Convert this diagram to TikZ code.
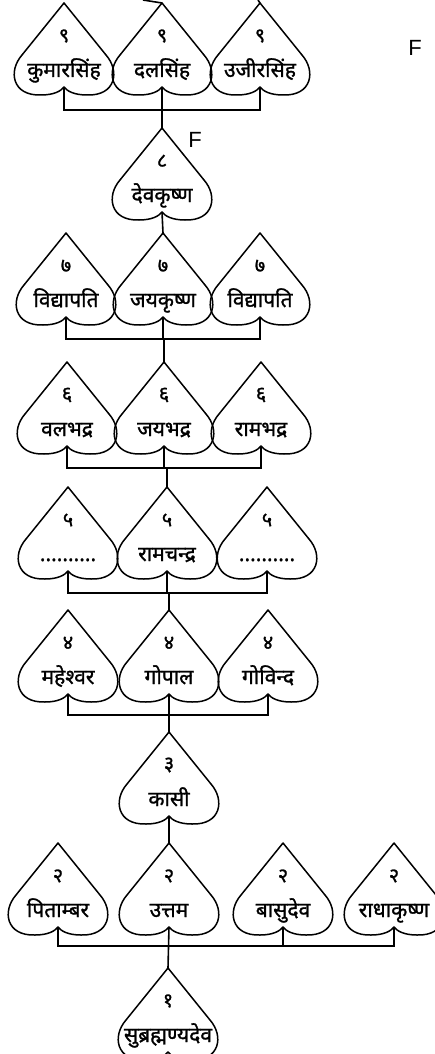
\documentclass[tikz,border=0pt]{standalone}
\usepackage{fontspec}
\newfontfamily\deva[Script=Devanagari,FakeBold=1.2]{Noto Sans}
\newfontfamily\lsans{Liberation Sans}
\tikzset{
  x=1pt,y=1pt,
  heartline/.style={draw=black,line width=1.5pt,line join=round},
  conn/.style={draw=black,line width=1.6pt},
  numtxt/.style={inner sep=0pt,font=\deva\fontsize{20}{20}\selectfont},
  nametxt/.style={inner sep=0pt,anchor=base,font=\deva\fontsize{21}{21}\selectfont},
  ftxt/.style={inner sep=0pt,font=\lsans\fontsize{22}{22}\selectfont},
}
\newcommand\hrt[5]{%
  \begin{scope}[shift={(#2,-#3)}]
    \draw[heartline] (0,0) -- (-42,-52)
      .. controls (-56,-68) and (-52,-93) .. (-23,-92)
      .. controls (-10,-92) and (-3,-88) .. (0,-84)
      .. controls (3,-88) and (10,-92) .. (23,-92)
      .. controls (52,-93) and (56,-68) .. (42,-52) -- cycle;
    \coordinate (#1t) at (0,0);
    \coordinate (#1n) at (0,-84);
    \node[numtxt] (#1num) at (0,-33) {#4};
    \node[nametxt] (#1) at (0,-74) {#5};
  \end{scope}}
\begin{document}
\begin{tikzpicture}
\useasboundingbox (0,0) rectangle (435,-1054);
% row 9
\hrt{a9}{64}{3}{९}{कुमारसिंह}
\hrt{b9}{162}{3}{९}{दलसिंह}
\hrt{c9}{260}{3}{९}{उजीरसिंह}
% row 8
\hrt{b8}{162}{128}{८}{देवकृष्ण}
% row 7
\hrt{a7}{66}{233}{७}{विद्यापति}
\hrt{b7}{163}{233}{७}{जयकृष्ण}
\hrt{c7}{260}{233}{७}{विद्यापति}
% row 6
\hrt{a6}{67}{362}{६}{वलभद्र}
\hrt{b6}{164}{362}{६}{जयभद्र}
\hrt{c6}{261}{362}{६}{रामभद्र}
% row 5
\hrt{a5}{68}{487}{५}{..........}
\hrt{b5}{167}{487}{५}{रामचन्द्र}
\hrt{c5}{267}{487}{५}{..........}
% row 4
\hrt{a4}{68}{610}{४}{महेश्वर}
\hrt{b4}{169}{610}{४}{गोपाल}
\hrt{c4}{268}{610}{४}{गोविन्द}
% row 3
\hrt{b3}{169}{732}{३}{कासी}
% row 2
\hrt{a2}{58}{843}{२}{पिताम्बर}
\hrt{b2}{169}{843}{२}{उत्तम}
\hrt{c2}{283}{843}{२}{बासुदेव}
\hrt{d2}{394}{843}{२}{राधाकृष्ण}
% row 1
\hrt{b1}{168}{968}{१}{सुब्रह्मण्यदेव}
% stray labels
\node[ftxt] (f1) at (415,-48) {F};
\node[ftxt] (f2) at (195,-140) {F};
% connectors leaving the top edge
\coordinate (o1) at (143,0);
\coordinate (o2) at (258,0);
\draw[conn] (b9t) -- (o1);
\draw[conn] (c9t) -- (o2);
% group 9 -> 8
\draw[conn] (a9n) -- (a9n |- 0,-110) -- (c9n |- 0,-110) -- (c9n);
\draw[conn] (b9n) -- (b8t);
\draw[conn] (b8n) -- (b7t);
% group 7
\draw[conn] (a7n) -- (a7n |- 0,-339) -- (c7n |- 0,-339) -- (c7n);
\draw[conn] (b7n) -- (b7n |- 0,-339);
\draw[conn] (b6t |- 0,-339) -- (b6t);
% group 6
\draw[conn] (a6n) -- (a6n |- 0,-468) -- (c6n |- 0,-468) -- (c6n);
\draw[conn] (b6n) -- (b6n |- 0,-468);
\draw[conn] (b5t |- 0,-468) -- (b5t);
% group 5
\draw[conn] (a5n) -- (a5n |- 0,-593) -- (c5n |- 0,-593) -- (c5n);
\draw[conn] (b5n) -- (b5n |- 0,-593);
\draw[conn] (b4t |- 0,-593) -- (b4t);
% group 4
\draw[conn] (a4n) -- (a4n |- 0,-715) -- (c4n |- 0,-715) -- (c4n);
\draw[conn] (b4n) -- (b3t);
% 3 -> 2
\draw[conn] (b3n) -- (b2t);
% group 2
\draw[conn] (a2n) -- (a2n |- 0,-946) -- (d2n |- 0,-946) -- (d2n);
\draw[conn] (c2n) -- (c2n |- 0,-946);
\draw[conn] (b2n) -- (b1t);
\end{tikzpicture}
\end{document}
